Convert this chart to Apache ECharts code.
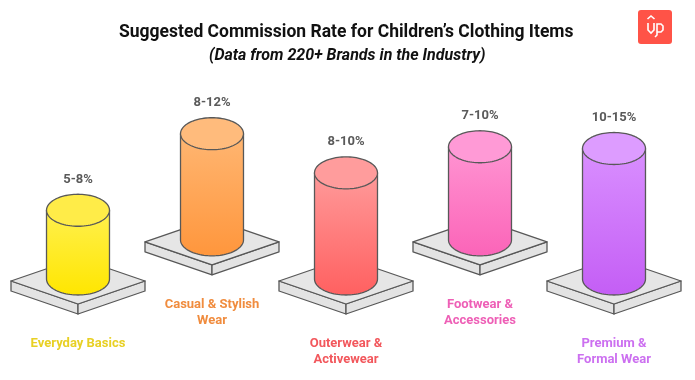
<!DOCTYPE html>
<html>
<head>
<meta charset="utf-8">
<style>html,body{margin:0;padding:0;background:#fff}#c{width:695px;height:380px}</style>
<script src="https://cdn.jsdelivr.net/npm/echarts@6/dist/echarts.min.js"></script>
</head>
<body>
<div id="c"></div>
<script>
const categories = ['Everyday Basics', 'Casual & Stylish\nWear', 'Outerwear &\nActivewear', 'Footwear &\nAccessories', 'Premium &\nFormal Wear'];
const rateLabels = ['5-8%', '8-12%', '8-10%', '7-10%', '10-15%'];
const columnBase = [0, 4.5, 0, 4.5, 0];
const columnHeight = [7.9, 12.2, 12.2, 10.7, 15];
const labelColors = ['#e8d024', '#f08c3e', '#f2575c', '#ee5fb6', '#cc70f0'];
const lidColors = ['#ffec48', '#ffbb7c', '#ff9c9c', '#ff9ad6', '#dd9cff'];
const topColors = ['#fff04e', '#ffb672', '#ff9a9a', '#ff94d2', '#d98fff'];
const bottomColors = ['#ffe600', '#ff963c', '#ff6060', '#fb64b8', '#c45ef5'];

const STROKE = '#585858';

function arcPoints(cx, cy, rx, ry, from, to, n) {
  const pts = [];
  for (let i = 0; i <= n; i++) {
    const a = from + (to - from) * i / n;
    pts.push([cx + rx * Math.cos(a), cy + ry * Math.sin(a)]);
  }
  return pts;
}

function renderColumn(params, api) {
  const i = params.dataIndex;
  const baseV = api.value(1);
  const topV = baseV + api.value(2);
  const b = api.coord([api.value(0), baseV]);
  const t = api.coord([api.value(0), topV]);
  const band = api.size([1, 0])[0];
  const cx = b[0], by = b[1], ty = t[1];
  const pw = band * 0.5, ph = 23, depth = 10, py = by + 2;
  const rx = band * 0.235, ry = 16;
  const line = { stroke: STROKE, lineWidth: 1.3, lineJoin: 'round' };
  const body = arcPoints(cx, by, rx, ry, 0, Math.PI, 48);
  body.push([cx - rx, ty]);
  body.push([cx + rx, ty]);
  return {
    type: 'group',
    children: [
      { type: 'polygon', shape: { points: [[cx - pw, py], [cx, py + ph], [cx, py + ph + depth], [cx - pw, py + depth]] }, style: Object.assign({ fill: '#e3e3e3' }, line) },
      { type: 'polygon', shape: { points: [[cx + pw, py], [cx, py + ph], [cx, py + ph + depth], [cx + pw, py + depth]] }, style: Object.assign({ fill: '#e3e3e3' }, line) },
      { type: 'polygon', shape: { points: [[cx - pw, py], [cx, py - ph], [cx + pw, py], [cx, py + ph]] }, style: Object.assign({ fill: '#e6e6e6' }, line) },
      { type: 'polygon', shape: { points: body }, style: Object.assign({
          fill: { type: 'linear', x: 0, y: 0, x2: 0, y2: 1, colorStops: [{ offset: 0, color: topColors[i] }, { offset: 1, color: bottomColors[i] }] }
        }, line) },
      { type: 'polygon', shape: { points: arcPoints(cx, ty, rx, ry, 0, Math.PI * 2, 96) }, style: Object.assign({ fill: lidColors[i] }, line) },
      { type: 'text', style: { text: rateLabels[i], x: cx, y: ty - 31, align: 'center', verticalAlign: 'middle', font: 'bold 13px Roboto', fill: '#5a5a5a' } },
      { type: 'text', style: { text: categories[i], x: cx, y: by + 56.5, align: 'center', verticalAlign: 'top', font: 'bold 13px Roboto', lineHeight: 16, fill: labelColors[i] } }
    ]
  };
}

const chart = echarts.init(document.getElementById('c'), null, { renderer: 'canvas' });
chart.setOption({
  animation: false,
  backgroundColor: '#ffffff',
  title: [
    { text: 'Suggested Commission Rate for Children’s Clothing Items', left: 114, top: 19, textStyle: { fontFamily: 'Roboto', fontWeight: 'bold', fontSize: 17.5, color: '#111111' } },
    { text: '(Data from 220+ Brands in the Industry)', left: 204, top: 43, textStyle: { fontFamily: 'Roboto', fontWeight: 'bold', fontStyle: 'italic', fontSize: 16, color: '#111111' } }
  ],
  grid: { left: 11, width: 670, top: 18, height: 261 },
  xAxis: { type: 'category', data: categories, show: false },
  yAxis: { type: 'value', min: 0, max: 30, show: false },
  series: [{
    type: 'custom',
    renderItem: renderColumn,
    clip: false,
    encode: { x: 0, y: 1 },
    data: categories.map((c, i) => [i, columnBase[i], columnHeight[i]])
  }],
  graphic: [{
    type: 'group',
    left: 638,
    top: 10,
    children: [
      { type: 'rect', shape: { x: 0, y: 0, width: 34, height: 34, r: 3 }, style: { fill: '#ff5347' } },
      { type: 'polyline', shape: { points: [[9.5, 9], [13, 6], [16.5, 9]] }, style: { stroke: '#fff', fill: 'none', lineWidth: 1.6 } },
      { type: 'polyline', shape: { points: [[10, 13], [10, 20], [13, 23], [16, 20], [16, 13]] }, style: { stroke: '#fff', fill: 'none', lineWidth: 1.6 } },
      { type: 'polyline', shape: { points: [[17, 27], [19, 25], [19, 14], [23, 14], [25, 16], [25, 20], [23, 22], [19, 22]] }, style: { stroke: '#fff', fill: 'none', lineWidth: 1.6 } }
    ]
  }]
});
</script>
</body>
</html>
